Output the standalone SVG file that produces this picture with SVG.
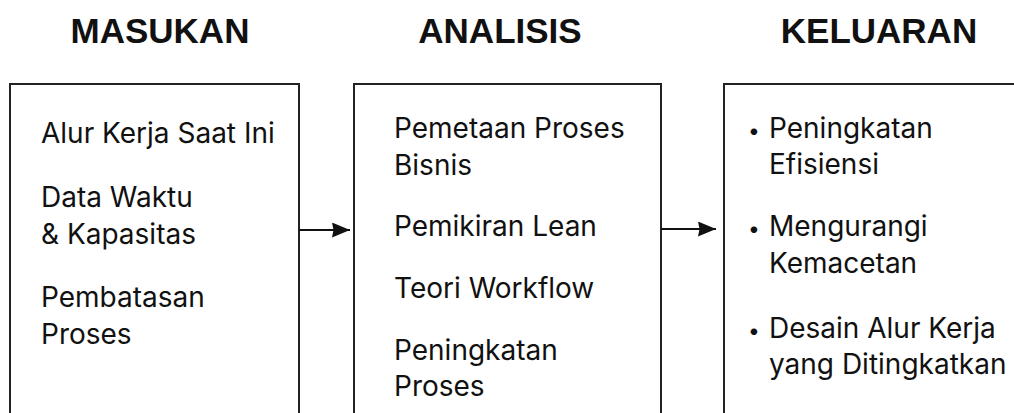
<svg xmlns="http://www.w3.org/2000/svg" width="1014" height="413" viewBox="0 0 1014 413">
<defs>
<style>
.h{font-family:"Liberation Sans",Arial,sans-serif;font-weight:bold;font-size:35px;fill:#111;text-anchor:middle}
.t{font-family:Inter,"Liberation Sans",sans-serif;font-size:28px;fill:#111}
.b{font-family:Inter,"Liberation Sans",sans-serif;font-size:21px;fill:#111}
.box{fill:#fff;stroke:#222;stroke-width:2}
.c{stroke:#111;stroke-width:2;fill:none}
</style>
<marker id="ah" viewBox="0 0 18 15" refX="18" refY="7.5" markerWidth="18" markerHeight="15" markerUnits="userSpaceOnUse" orient="auto">
<path d="M0,0 L18,7.5 L0,15 L1.5,7.5 z" fill="#111"/>
</marker>
</defs>
<rect width="1014" height="413" fill="#fff"/>
<g id="masukan">
<text class="h" x="160" y="43">MASUKAN</text>
<rect class="box" x="10" y="84" width="289" height="340"/>
<text class="t" x="41" y="142.5">Alur Kerja Saat Ini</text>
<text class="t" x="41" y="207">Data Waktu</text>
<text class="t" x="41" y="244">&amp; Kapasitas</text>
<text class="t" x="41" y="307">Pembatasan</text>
<text class="t" x="41" y="344">Proses</text>
</g>
<g id="analisis">
<text class="h" x="500" y="43">ANALISIS</text>
<rect class="box" x="354" y="84" width="307" height="340"/>
<text class="t" x="394" y="137.5">Pemetaan Proses</text>
<text class="t" x="394" y="175">Bisnis</text>
<text class="t" x="394" y="236">Pemikiran Lean</text>
<text class="t" x="394" y="298">Teori Workflow</text>
<text class="t" x="394" y="359.5">Peningkatan</text>
<text class="t" x="394" y="396">Proses</text>
</g>
<g id="keluaran">
<text class="h" x="879" y="43">KELUARAN</text>
<rect class="box" x="724" y="84" width="300" height="340"/>
<text class="b" x="748" y="138">•</text>
<text class="t" x="769" y="137.5">Peningkatan</text>
<text class="t" x="769" y="174">Efisiensi</text>
<text class="b" x="748" y="236">•</text>
<text class="t" x="769" y="235.5">Mengurangi</text>
<text class="t" x="769" y="273">Kemacetan</text>
<text class="b" x="748" y="337.5">•</text>
<text class="t" x="769" y="337.5">Desain Alur Kerja</text>
<text class="t" x="769" y="374">yang Ditingkatkan</text>
</g>
<g id="connectors">
<line class="c" x1="299" y1="230" x2="350" y2="230" marker-end="url(#ah)"/>
<line class="c" x1="661" y1="229" x2="716" y2="229" marker-end="url(#ah)"/>
</g>
</svg>
